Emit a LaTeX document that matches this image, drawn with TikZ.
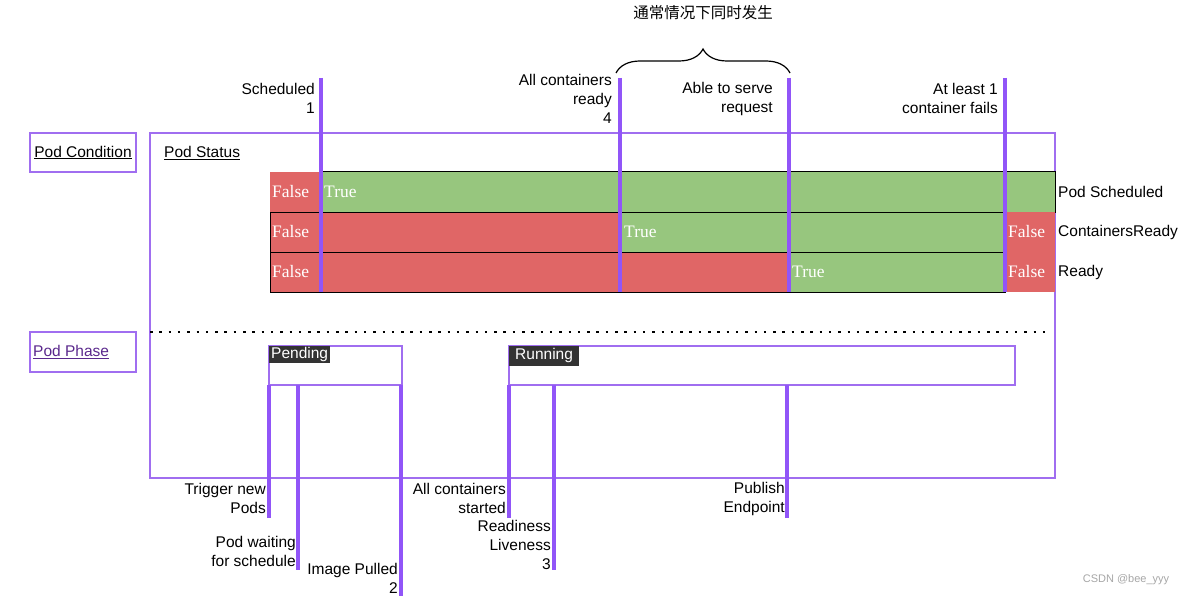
\documentclass[tikz,border=0pt]{standalone}
\usepackage{fontspec}
\setmainfont{Liberation Sans}
\newfontfamily\serifTF{Liberation Serif}
\newfontfamily\cjk{Noto Sans CJK SC}
\usetikzlibrary{decorations.pathreplacing}
\definecolor{evtc}{RGB}{145,85,248}
\definecolor{boxp}{RGB}{160,110,240}
\definecolor{segred}{RGB}{224,102,102}
\definecolor{seggreen}{RGB}{151,198,126}
\definecolor{phasep}{RGB}{90,40,140}
\definecolor{tagbg}{RGB}{51,51,51}
\begin{document}
\begin{tikzpicture}[x=1pt,y=-1pt,
  lbl/.style={font=\fontsize{15.5}{19}\selectfont, inner sep=0pt, align=right, anchor=east},
  rlbl/.style={font=\fontsize{15.5}{19}\selectfont, inner sep=0pt, anchor=west},
  frame/.style={draw=boxp, line width=1.3pt, anchor=north west, inner sep=0pt, outer sep=0pt},
  seg/.style={anchor=north west, minimum height=40pt, inner sep=0pt, outer sep=0pt},
  segb/.style={seg, draw=black, line width=1pt},
  segtxt/.style={text=white, font=\serifTF\fontsize{17.5}{20}\selectfont, anchor=west, inner sep=0pt},
  eventline/.style={draw=evtc, line width=4pt},
  tag/.style={fill=tagbg, text=white, anchor=north west, inner xsep=2pt, inner ysep=1pt, font=\fontsize{15.5}{17}\selectfont},
  dots/.style={line width=2.5pt, dash pattern=on 2.5pt off 6.8pt}
]
\useasboundingbox (0,0) rectangle (1188,596);

% frames
\node[frame, minimum width=106pt, minimum height=39pt] (cond) at (30,133) {};
\node[font=\fontsize{15.5}{19}\selectfont, inner sep=0pt] (condt) at (cond.center) {\underline{Pod Condition}};
\node[frame, minimum width=905pt, minimum height=345pt] (status) at (150,133) {};
\node[rlbl] (statust) at (164,153) {\underline{Pod Status}};
\node[frame, minimum width=106pt, minimum height=40pt] (phase) at (30,332) {};
\node[rlbl, text=phasep] (phaset) at (33,352) {\underline{Pod Phase}};

% bars
\node[seg, fill=segred, minimum width=51pt] (r1f) at (270,172) {};
\node[segb, fill=seggreen, minimum width=734pt] (r1t) at (321,172) {};
\node[segb, fill=segred, minimum width=350pt] (r2f) at (270,212) {};
\node[segb, fill=seggreen, minimum width=385pt] (r2t) at (620,212) {};
\node[seg, fill=segred, minimum width=50pt] (r2e) at (1005,212) {};
\node[segb, fill=segred, minimum width=519pt] (r3f) at (270,252) {};
\node[segb, fill=seggreen, minimum width=216pt] (r3t) at (789,252) {};
\node[seg, fill=segred, minimum width=50pt] (r3e) at (1005,252) {};

\node[segtxt] (t1f) at ([xshift=2pt]r1f.west) {False};
\node[segtxt] (t1t) at ([xshift=3pt]r1t.west) {True};
\node[segtxt] (t2f) at ([xshift=2pt]r2f.west) {False};
\node[segtxt] (t2t) at ([xshift=4pt]r2t.west) {True};
\node[segtxt] (t2e) at ([xshift=3pt]r2e.west) {False};
\node[segtxt] (t3f) at ([xshift=2pt]r3f.west) {False};
\node[segtxt] (t3t) at ([xshift=3pt]r3t.west) {True};
\node[segtxt] (t3e) at ([xshift=3pt]r3e.west) {False};

\node[rlbl] (l1) at (1058,192) {Pod Scheduled};
\node[rlbl] (l2) at (1058,232) {ContainersReady};
\node[rlbl] (l3) at (1058,272) {Ready};

% top event lines
\coordinate (e1t) at (321,78);  \coordinate (e1b) at (321,292);
\coordinate (e2t) at (620,78);  \coordinate (e2b) at (620,292);
\coordinate (e3t) at (789,78);  \coordinate (e3b) at (789,292);
\coordinate (e4t) at (1005,78); \coordinate (e4b) at (1005,292);
\foreach \i in {1,2,3,4} {\draw[eventline] (e\i t) -- (e\i b);}

\node[lbl] (a1) at (315,98.5) {Scheduled\\1};
\node[lbl] (a2) at (612,99) {All containers\\ready\\4};
\node[lbl] (a3) at (773,98.5) {Able to serve\\request};
\node[lbl] (a4) at (998,98.5) {At least 1\\container fails};

% brace
\coordinate (br1) at (616,73);
\coordinate (br2) at (790,73);
\draw[decorate, decoration={brace, amplitude=24pt}, line width=1.2pt] (br1) -- (br2);
\node[font=\cjk\fontsize{15.5}{19}\selectfont, inner sep=0pt] (cjkt) at (703,13) {通常情况下同时发生};

% dotted separator
\coordinate (dl) at (150,332);
\coordinate (dr) at (1050,332);
\draw[dots] (dl) -- (dr);

% phases
\node[frame, minimum width=133pt, minimum height=39pt] (pend) at (269,346) {};
\node[frame, minimum width=506pt, minimum height=39pt] (run) at (509,346) {};
\node[tag] (pendtag) at (pend.north west) {Pending};
\node[tag, inner ysep=2.5pt, inner xsep=6pt] (runtag) at (run.north west) {Running};

% bottom event lines
\coordinate (b1t) at (269,385); \coordinate (b1b) at (269,518);
\coordinate (b2t) at (298,385); \coordinate (b2b) at (298,570);
\coordinate (b3t) at (401,385); \coordinate (b3b) at (401,596);
\coordinate (b4t) at (509,385); \coordinate (b4b) at (509,518);
\coordinate (b5t) at (554,385); \coordinate (b5b) at (554,570);
\coordinate (b6t) at (787,385); \coordinate (b6b) at (787,518);
\foreach \i in {1,...,6} {\draw[eventline] (b\i t) -- (b\i b);}

\node[lbl] (c1) at (266,498.5) {Trigger new\\Pods};
\node[lbl] (c2) at (296,551.5) {Pod waiting\\for schedule};
\node[lbl] (c3) at (398,578.5) {Image Pulled\\2};
\node[lbl] (c4) at (506,498.5) {All containers\\started};
\node[lbl] (c5) at (551,545) {Readiness\\Liveness\\3};
\node[lbl] (c6) at (785,498.5) {Publish\\Endpoint};

\node[text=gray!70, font=\fontsize{11}{13}\selectfont, inner sep=0pt] (wm) at (1126,580) {CSDN @bee\_yyy};
\end{tikzpicture}
\end{document}
